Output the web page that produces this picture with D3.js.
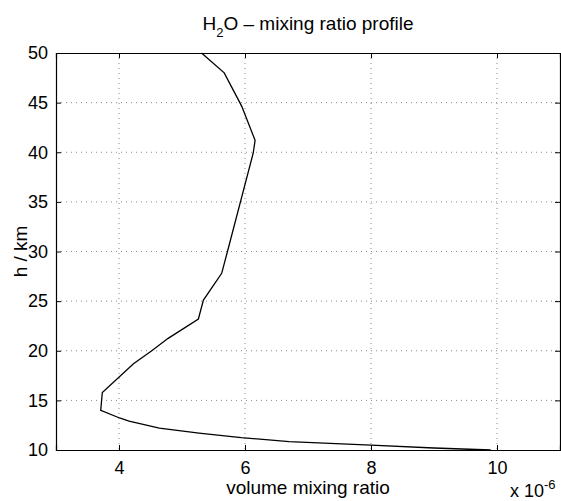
<!DOCTYPE html>
<html>
<head>
<meta charset="utf-8">
<script src="https://cdn.jsdelivr.net/npm/d3@7"></script>
<style>
  body { margin: 0; background: #fff; }
  svg { display: block; font-family: "Liberation Sans", Arial, sans-serif; }
</style>
</head>
<body>
<figure id="chart" style="margin:0"></figure>
<script>
// profile values: altitude in km and volume mixing ratio (units of 1e-6)
const altitude = [10, 10.2, 10.5, 10.85, 11.25, 11.7, 12.2, 12.9, 13.2, 14.0, 15.8, 18.7, 20, 21.25, 23.2, 25.1, 27.8, 30.2, 39.9, 41.2, 44.6, 45.1, 48, 50];
const mixing = [9.9, 9.0, 8.0, 6.7, 5.94, 5.27, 4.64, 4.16, 4.02, 3.71, 3.735, 4.23, 4.52, 4.78, 5.26, 5.34, 5.63, 5.73, 6.13, 6.16, 5.95, 5.91, 5.67, 5.31];
const xTicks = [4, 6, 8, 10];
const yTicks = [10, 15, 20, 25, 30, 35, 40, 45, 50];

const width = 561, height = 501;
const margin = { top: 53, right: 1, bottom: 51, left: 56 };
const innerW = width - margin.left - margin.right;
const innerH = height - margin.top - margin.bottom;

const svg = d3.select("figure#chart")
  .append("svg")
  .attr("width", width)
  .attr("height", height);

const g = svg.append("g")
  .attr("transform", "translate(" + margin.left + "," + margin.top + ")");

const x = d3.scaleLinear().domain([3, 11]).range([0, innerW]);
const y = d3.scaleLinear().domain([10, 50]).range([innerH, 0]);

// dotted grid
g.append("g").selectAll("line").data(xTicks).enter().append("line")
  .attr("x1", d => x(d)).attr("x2", d => x(d))
  .attr("y1", 0).attr("y2", innerH)
  .attr("stroke", "#888").attr("stroke-dasharray", "1,4");
g.append("g").selectAll("line").data(yTicks.slice(1, -1)).enter().append("line")
  .attr("y1", d => y(d)).attr("y2", d => y(d))
  .attr("x1", 0).attr("x2", innerW)
  .attr("stroke", "#888").attr("stroke-dasharray", "1,4");

// axes with inward ticks on all four sides
const fontSize = "18px";
const axBottom = g.append("g")
  .attr("transform", "translate(0," + innerH + ")")
  .call(d3.axisBottom(x).tickValues(xTicks).tickSize(-5).tickPadding(11).tickFormat(d3.format("d")));
const axLeft = g.append("g")
  .call(d3.axisLeft(y).tickValues(yTicks).tickSize(-5).tickPadding(8).tickFormat(d3.format("d")));
const axTop = g.append("g")
  .call(d3.axisTop(x).tickValues(xTicks).tickSize(-5).tickFormat(""));
const axRight = g.append("g")
  .attr("transform", "translate(" + innerW + ",0)")
  .call(d3.axisRight(y).tickValues(yTicks).tickSize(-5).tickFormat(""));

[axBottom, axLeft, axTop, axRight].forEach(a => {
  a.select(".domain").attr("stroke", "#000").attr("stroke-width", 1.2);
  a.selectAll(".tick line").attr("stroke", "#000");
  a.selectAll("text").attr("fill", "#000").style("font-size", fontSize)
    .style("font-family", "'Liberation Sans', Arial, sans-serif");
});

// the profile line
const pts = altitude.map((h, i) => [mixing[i], h]);
g.append("path")
  .datum(pts)
  .attr("fill", "none")
  .attr("stroke", "#000")
  .attr("stroke-width", 1.3)
  .attr("d", d3.line().x(d => x(d[0])).y(d => y(d[1])));

// title
const title = svg.append("text")
  .attr("x", margin.left + innerW / 2)
  .attr("y", 30)
  .attr("text-anchor", "middle")
  .style("font-size", "19px");
title.append("tspan").text("H");
title.append("tspan").attr("dy", 7).style("font-size", "13px").text("2");
title.append("tspan").attr("dy", -7).text("O \u2013 mixing ratio profile");

// axis labels
svg.append("text")
  .attr("x", margin.left + innerW / 2)
  .attr("y", 494)
  .attr("text-anchor", "middle")
  .style("font-size", "19px")
  .text("volume mixing ratio");

svg.append("text")
  .attr("transform", "translate(27," + (margin.top + innerH / 2) + ") rotate(-90)")
  .attr("text-anchor", "middle")
  .style("font-size", "19px")
  .text("h / km");

// exponent note
const expo = svg.append("text")
  .attr("x", 510)
  .attr("y", 497)
  .style("font-size", "18px");
expo.append("tspan").text("x 10");
expo.append("tspan").attr("dy", -8).style("font-size", "13px").text("-6");
</script>
</body>
</html>
